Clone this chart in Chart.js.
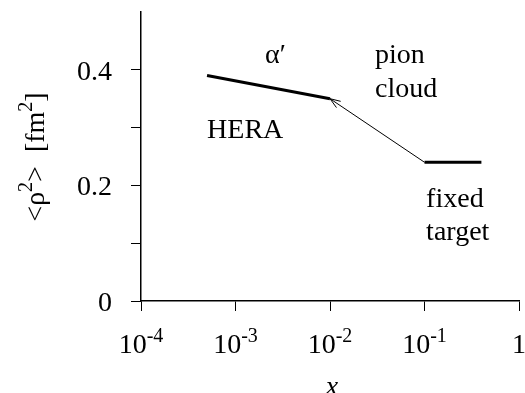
<!DOCTYPE html>
<html>
<head>
<meta charset="utf-8">
<script src="https://cdn.jsdelivr.net/npm/chart.js@4"></script>
<style>
  html, body { margin: 0; padding: 0; background: #fff; }
  canvas { display: block; }
</style>
</head>
<body>
<canvas id="chart" width="525" height="393"></canvas>
<script>
// dane
const xDecades = [1e-4, 1e-3, 1e-2, 1e-1, 1];
const xTickExp = ['-4', '-3', '-2', '-1', ''];
const yTicks = [0, 0.1, 0.2, 0.3, 0.4];
const yTickLabels = ['0', '', '0.2', '', '0.4'];

const heraX = [5e-4, 1e-2];
const heraY = [0.39, 0.35];
const pionX = [1e-1, 1e-2];
const pionY = [0.24, 0.35];
const fixedX = [1e-1, 0.4];
const fixedY = [0.24, 0.24];

// podpisy w jednostkach danych (lewy brzeg, linia bazowa)
const notes = [
  { text: 'α′', x: 2.05e-3, y: 0.412 },
  { text: 'HERA', x: 5e-4, y: 0.282 },
  { text: 'pion', x: 0.03, y: 0.412 },
  { text: 'cloud', x: 0.03, y: 0.353 },
  { text: 'fixed', x: 0.104, y: 0.163 },
  { text: 'target', x: 0.104, y: 0.106 }
];

const FONT = '"Liberation Serif", "Times New Roman", serif';
const zip = (xs, ys) => xs.map((x, i) => ({ x: x, y: ys[i] }));

/**
 * Plugin: etykiety osi z indeksami górnymi, podpisy i grot strzałki
 */
const textPlugin = {
  id: 'textPlugin',
  afterDraw(chart) {
    const { ctx, scales } = chart;
    const xs = scales.x, ys = scales.y;
    ctx.save();
    ctx.fillStyle = '#000';
    ctx.textBaseline = 'alphabetic';

    // etykiety osi Y
    ctx.font = '28px ' + FONT;
    ctx.textAlign = 'right';
    yTicks.forEach((v, i) => {
      if (!yTickLabels[i]) return;
      ctx.fillText(yTickLabels[i], 112, ys.getPixelForValue(v) + 10);
    });

    // etykiety osi X: 10^n
    ctx.textAlign = 'left';
    xDecades.forEach((v, i) => {
      const px = xs.getPixelForValue(v);
      const base = xTickExp[i] ? '10' : '1';
      ctx.font = '28px ' + FONT;
      const w1 = ctx.measureText(base).width;
      ctx.font = '20px ' + FONT;
      const w2 = xTickExp[i] ? ctx.measureText(xTickExp[i]).width : 0;
      const left = px - (w1 + w2) / 2;
      ctx.font = '28px ' + FONT;
      ctx.fillText(base, left, 353);
      if (xTickExp[i]) {
        ctx.font = '20px ' + FONT;
        ctx.fillText(xTickExp[i], left + w1, 342);
      }
    });

    // tytuł osi X
    ctx.font = 'italic 28px ' + FONT;
    ctx.textAlign = 'center';
    ctx.fillText('x', xs.getPixelForValue(1e-2) + 2, 395);

    // tytuł osi Y: <ρ²>  [fm²]
    const parts = [
      { t: '<ρ', s: 28, up: 0 },
      { t: '2', s: 20, up: 12 },
      { t: '>  [fm', s: 28, up: 0 },
      { t: '2', s: 20, up: 12 },
      { t: ']', s: 28, up: 0 }
    ];
    let total = 0;
    parts.forEach(p => { ctx.font = p.s + 'px ' + FONT; p.w = ctx.measureText(p.t).width; total += p.w; });
    ctx.translate(44, 157);
    ctx.rotate(-Math.PI / 2);
    ctx.textAlign = 'left';
    let cx = -total / 2;
    parts.forEach(p => {
      ctx.font = p.s + 'px ' + FONT;
      ctx.fillText(p.t, cx, -p.up);
      cx += p.w;
    });
    ctx.setTransform(1, 0, 0, 1, 0, 0);

    // podpisy
    ctx.font = '28px ' + FONT;
    ctx.textAlign = 'left';
    notes.forEach(n => {
      ctx.fillText(n.text, xs.getPixelForValue(n.x), ys.getPixelForValue(n.y));
    });

    // grot strzałki na końcu linii pion cloud
    const x0 = xs.getPixelForValue(pionX[0]), y0 = ys.getPixelForValue(pionY[0]);
    const x1 = xs.getPixelForValue(pionX[1]), y1 = ys.getPixelForValue(pionY[1]);
    const ang = Math.atan2(y1 - y0, x1 - x0);
    const len = 11, spread = 0.35;
    ctx.strokeStyle = '#000';
    ctx.lineWidth = 1;
    ctx.beginPath();
    ctx.moveTo(x1 - len * Math.cos(ang - spread), y1 - len * Math.sin(ang - spread));
    ctx.lineTo(x1, y1);
    ctx.lineTo(x1 - len * Math.cos(ang + spread), y1 - len * Math.sin(ang + spread));
    ctx.stroke();
    ctx.restore();
  }
};

new Chart(document.getElementById('chart'), {
  type: 'line',
  data: {
    datasets: [
      { data: zip(heraX, heraY), borderColor: '#000', borderWidth: 3, pointRadius: 0 },
      { data: zip(pionX, pionY), borderColor: '#000', borderWidth: 1, pointRadius: 0 },
      { data: zip(fixedX, fixedY), borderColor: '#000', borderWidth: 3, pointRadius: 0 }
    ]
  },
  options: {
    responsive: false,
    animation: false,
    layout: { padding: { left: 0, right: 6, top: 12, bottom: 0 } },
    plugins: { legend: { display: false }, tooltip: { enabled: false } },
    scales: {
      x: {
        type: 'logarithmic',
        min: 1e-4,
        max: 1,
        afterBuildTicks: s => { s.ticks = xDecades.map(v => ({ value: v })); },
        afterFit: s => { s.height = 92; },
        ticks: { display: false },
        grid: { drawOnChartArea: false, drawTicks: true, tickLength: 10, tickColor: '#000', lineWidth: 1 },
        border: { color: '#000', width: 1.5 }
      },
      y: {
        type: 'linear',
        min: 0,
        max: 0.5,
        afterBuildTicks: s => { s.ticks = yTicks.map(v => ({ value: v })); },
        afterFit: s => { s.width = 141; },
        ticks: { display: false },
        grid: { drawOnChartArea: false, drawTicks: true, tickLength: 10, tickColor: '#000', lineWidth: 1 },
        border: { color: '#000', width: 1.5 }
      }
    }
  },
  plugins: [textPlugin]
});
</script>
</body>
</html>
